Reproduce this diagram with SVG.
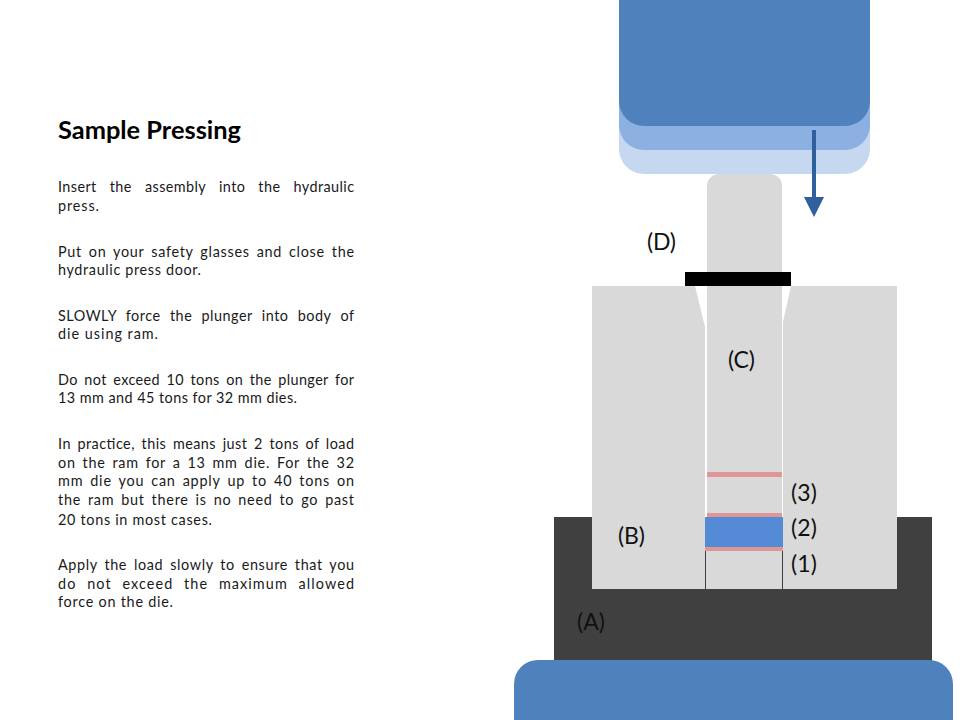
<svg xmlns="http://www.w3.org/2000/svg" width="960" height="720" viewBox="0 0 960 720">
<style>
text{font-family:"Lato","Liberation Sans",sans-serif;fill:#1a1a1a}
.b{font-size:14.4px}
.j{font-size:14.4px;word-spacing:2.5px}
.l{font-size:23px;fill:#111}
.g{fill:#d9d9d9}
.p{fill:#e09696}
</style>
<rect width="960" height="720" fill="#fff"/>
<g id="text">
<text x="58" y="139" font-size="25" font-weight="700" textLength="183" lengthAdjust="spacingAndGlyphs" style="fill:#000">Sample Pressing</text>
<text class="j" x="58" y="192" textLength="296" style="word-spacing:9px">Insert the assembly into the hydraulic</text>
<text class="b" x="58" y="211" textLength="41">press.</text>
<text class="j" x="58" y="257" textLength="296">Put on your safety glasses and close the</text>
<text class="b" x="58" y="275" textLength="143">hydraulic press door.</text>
<text class="j" x="58" y="321" textLength="296" style="word-spacing:5px">SLOWLY force the plunger into body of</text>
<text class="b" x="58" y="339" textLength="100">die using ram.</text>
<text class="j" x="58" y="385" textLength="296">Do not exceed 10 tons on the plunger for</text>
<text class="b" x="58" y="403" textLength="239">13 mm and 45 tons for 32 mm dies.</text>
<text class="j" x="58" y="449" textLength="296">In practice, this means just 2 tons of load</text>
<text class="j" x="58" y="468" textLength="296">on the ram for a 13 mm die. For the 32</text>
<text class="j" x="58" y="486" textLength="296">mm die you can apply up to 40 tons on</text>
<text class="j" x="58" y="505" textLength="296">the ram but there is no need to go past</text>
<text class="b" x="58" y="525" textLength="154">20 tons in most cases.</text>
<text class="j" x="58" y="570" textLength="296">Apply the load slowly to ensure that you</text>
<text class="j" x="58" y="589" textLength="296" style="word-spacing:6px">do not exceed the maximum allowed</text>
<text class="b" x="58" y="607" textLength="115">force on the die.</text>
</g>
<g id="ram">
<rect x="619" y="-40" width="251" height="214" rx="25" fill="#c6d7f0"/>
<rect x="619" y="-40" width="251" height="190" rx="25" fill="#8db0e2"/>
<rect x="619" y="-40" width="251" height="166" rx="25" fill="#4f81bd"/>
</g>
<g id="base-plate"><rect x="554" y="517" width="378" height="150" fill="#404040"/></g>
<g id="press-bed"><rect x="514" y="660" width="439" height="100" rx="24" fill="#4f81bd"/></g>
<g id="die-body">
<path class="g" d="M592 286H695L705 327V589H592Z"/>
<path class="g" d="M791 286H897V589H783V322Z"/>
</g>
<g id="plunger">
<path class="g" d="M707 589V186a12 12 0 0 1 12-12h51a12 12 0 0 1 12 12V589Z"/>
<rect class="g" x="705" y="517" width="78" height="72"/>
<path d="M705.5 517V589M782.5 517V589" stroke="#404040" stroke-width="1" fill="none"/>
</g>
<g id="collar"><rect x="685" y="272" width="106" height="14" fill="#000"/></g>
<g id="sample">
<rect class="p" x="707" y="472" width="75" height="5"/>
<rect class="p" x="707" y="513" width="75" height="4"/>
<rect x="705" y="517" width="78" height="30" fill="#558ad6"/>
<rect class="p" x="705" y="547" width="78" height="4"/>
</g>
<g id="connectors">
<rect x="812" y="130" width="4" height="68" fill="#2f5f9c"/>
<path d="M804 197H824L814 217Z" fill="#2f5f9c"/>
</g>
<g id="labels">
<text class="l" x="647" y="250" textLength="29">(D)</text>
<text class="l" x="728" y="368" textLength="27">(C)</text>
<text class="l" x="791" y="501" textLength="26">(3)</text>
<text class="l" x="791" y="536" textLength="26">(2)</text>
<text class="l" x="791" y="572" textLength="26">(1)</text>
<text class="l" x="618" y="544" textLength="27">(B)</text>
<text class="l" x="577" y="630" textLength="28">(A)</text>
</g>
</svg>
